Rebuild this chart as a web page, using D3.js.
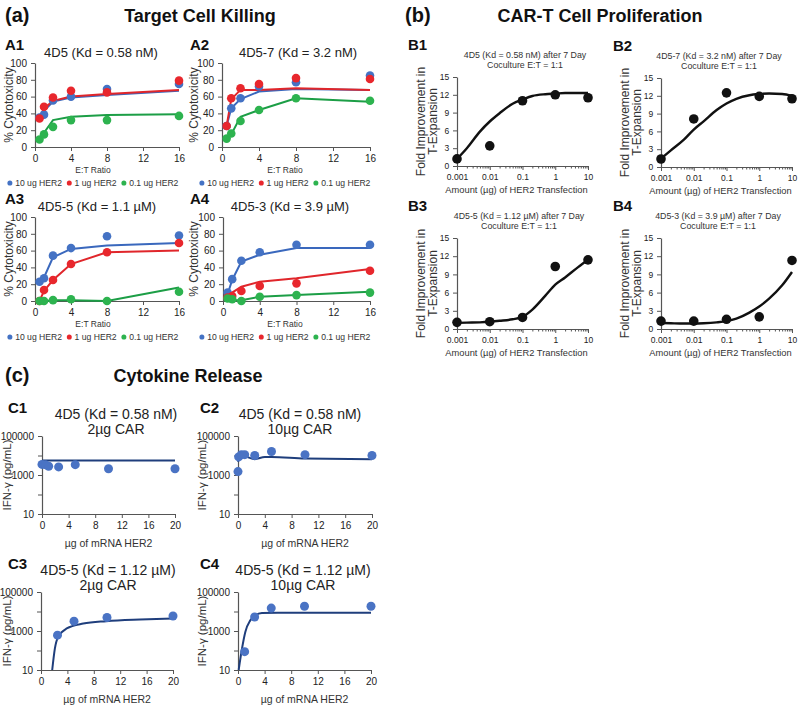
<!DOCTYPE html>
<html><head><meta charset="utf-8">
<script src="https://cdn.jsdelivr.net/npm/d3@7"></script>
<style>body{margin:0;background:#fff;}</style>
</head><body><svg id="c" width="800" height="705"></svg>
<script>
// ---------------- DATA ----------------
const etRatio = [0.5, 1, 2, 4, 8, 16];
const herLabels = ["10 ug HER2", "1 ug HER2", "0.1 ug HER2"];
const etTicks = [0, 4, 8, 12, 16];
const cytoTicks = [0, 20, 40, 60, 80, 100];

const a1Pts10 = [35, 38.5, 55.5, 60, 69, 75];
const a1Pts1  = [34, 48, 59, 67, 65, 79];
const a1Pts01 = [9, 15, 24, 32, 32, 37];
const a1Fit10 = [35, 43, 54, 59, 62, 67];
const a1Fit1  = [35, 46, 55, 60, 63, 68];
const a1Fit01 = [9, 17, 32, 36, 38, 39];

const a2Pts10 = [25, 46, 58, 72, 77, 85];
const a2Pts1  = [25, 58, 70, 75, 82, 81];
const a2Pts01 = [10, 16, 31, 44, 58, 55];
const a2Fit10 = [25, 46, 57, 66, 69, 68];
const a2Fit1  = [25, 57, 68, 68, 70, 68];
const a2Fit01 = [10, 15, 36, 44, 58, 54];

const a3Pts10 = [23, 27, 54, 63, 77, 78];
const a3Pts1  = [0, 13, 25, 44, 58, 69];
const a3Pts01 = [0, 0, 1, 2, 0, 11];
const a3Fit10 = [22, 28, 52, 62, 66, 69];
const a3Fit1  = [0, 12, 25, 44, 58, 60];
const a3Fit01 = [0, 0, 1, 1, 0, 16];

const a4Pts10 = [10, 26, 48, 58, 67, 67];
const a4Pts1  = [4, 6, 12, 18, 21, 36];
const a4Pts01 = [3, 2, 0, 5, 7, 10];
const a4Fit10 = [8, 25, 47, 55, 63, 63];
const a4Fit1  = [3, 10, 17, 23, 27, 38];
const a4Fit01 = [1, 1, 1, 5, 7, 11];

const herAmounts = [0.001, 0.01, 0.1, 1, 10];
const amountTicks = [0.001, 0.01, 0.1, 1, 10];
const foldTicks = [0, 3, 6, 9, 12, 15];
const fitAmounts = [0.001, 0.002, 0.005, 0.01, 0.02, 0.05, 0.1, 0.2, 0.5, 1, 2, 5, 10];
const b1Pts = [1.2, 3.4, 11, 12, 11.5];
const b2Pts = [1.35, 8.1, 12.5, 11.9, 11.5];
const b3Pts = [1.1, 1.2, 1.9, 10.3, 11.4];
const b4Pts = [1.3, 1.3, 1.6, 2.0, 11.3];
const b1Fit = [1.2, 3.0, 5.8, 7.5, 8.9, 10.5, 11.2, 11.8, 12.1, 12.2, 12.3, 12.3, 12.3];
const b2Fit = [1.4, 2.8, 4.6, 6.3, 7.7, 9.6, 10.7, 11.5, 12.1, 12.3, 12.4, 12.3, 12.0];
const b3Fit = [1.0, 1.05, 1.1, 1.2, 1.35, 1.6, 2.0, 3.2, 5.5, 7.3, 8.5, 10.2, 11.4];
const b4Fit = [1.0, 0.95, 0.9, 0.9, 0.95, 1.1, 1.3, 1.7, 2.7, 3.7, 5.0, 7.2, 9.4];

const mrnaTicks = [0, 4, 8, 12, 16, 20];
const ifnTicks = [10, 100, 1000, 10000, 100000];
const ifnLabels = [10, 1000, 100000];
const c1X = [0, 0.5, 1, 2.5, 5, 10, 20];
const c1Pts = [3500, 3400, 2800, 2600, 3400, 2100, 2100];
const c1FitX = [0, 20];
const c1Fit = [5500, 5500];
const c2X = [0, 0.1, 0.5, 1, 2.5, 5, 10, 20];
const c2Pts = [1500, 8500, 11000, 11000, 10000, 16000, 11000, 10000];
const c2FitX = [0, 0.5, 1, 2.5, 4, 5, 10, 20];
const c2Fit = [4700, 11000, 9500, 6500, 8400, 8400, 7000, 6500];
const c3X = [2.5, 5, 10, 20];
const c3Pts = [610, 3200, 4900, 5900];
const c3FitX = [1.7, 2.1, 2.6, 3.9, 6.4, 9.9, 15, 20];
const c3Fit = [10, 125, 500, 1350, 2400, 3200, 3900, 4400];
const c4X = [1, 2.5, 5, 10, 20];
const c4Pts = [87, 5200, 15000, 18500, 18500];
const c4FitX = [0.1, 0.6, 1.1, 1.85, 2.6, 3.6, 6, 20];
const c4Fit = [10, 125, 900, 3500, 6300, 8500, 8700, 8700];

// ---------------- DRAWING ----------------
const FONT = "'Liberation Sans', Arial, Helvetica, sans-serif";
const svg = d3.select("#c");
const AX = "#555";
const COL = {
  blue: "#4472c4", blueLine: "#3a68bd",
  red: "#e8272d", redLine: "#e0262b",
  green: "#2db34f", greenLine: "#1c9e46",
  cDot: "#4a73c4", cLine: "#1f3e7c"
};

function txt(x, y, s, o = {}) {
  const t = svg.append("text").attr("x", x).attr("y", y).text(s)
    .attr("font-family", FONT).attr("font-size", o.size || 10)
    .attr("font-weight", o.weight || "normal")
    .attr("text-anchor", o.anchor || "start").attr("fill", o.fill || "#222");
  if (o.rotate) t.attr("transform", `rotate(-90,${x},${y})`);
  return t;
}

let clipId = 0;
function panel(p) {
  const g = svg.append("g");
  const x = p.xScale.copy().range([p.left, p.right]);
  const y = p.yScale.copy().range([p.bottom, p.top]);
  const id = "clip" + (clipId++);
  svg.append("clipPath").attr("id", id).append("rect")
    .attr("x", p.left - 1).attr("y", p.top - 1)
    .attr("width", p.right - p.left + 2).attr("height", p.bottom - p.top + 2);

  const xa = g.append("g").attr("transform", `translate(0,${p.bottom})`)
    .call(d3.axisBottom(x).tickValues(p.xTicks).tickFormat(p.xFmt || (d => d))
      .tickSize(4).tickSizeOuter(0));
  if (p.xMinor) {
    g.append("g").attr("transform", `translate(0,${p.bottom})`)
      .call(d3.axisBottom(x).tickValues(p.xMinor).tickFormat("").tickSize(2.5).tickSizeOuter(0))
      .select(".domain").remove();
  }
  const ya = g.append("g").attr("transform", `translate(${p.left},0)`)
    .call(d3.axisLeft(y).tickValues(p.yTicks)
      .tickFormat(p.yFmt || (d => d)).tickSize(4).tickSizeOuter(0));
  g.selectAll(".domain").attr("stroke", AX).attr("stroke-width", 1.2);
  g.selectAll(".tick line").attr("stroke", AX).attr("stroke-width", 1);
  g.selectAll(".tick text").attr("font-family", FONT).attr("fill", "#222");
  xa.selectAll(".tick text").attr("font-size", p.tickSize || 10).attr("dy", "0.8em");
  ya.selectAll(".tick text").attr("font-size", p.tickSize || 10).attr("dx", "-0.1em");

  const lineGen = d3.line().x(d => x(d[0])).y(d => y(d[1])).curve(p.curve || d3.curveLinear);
  (p.lines || []).forEach(L => {
    g.append("path").datum(d3.zip(L.x, L.y)).attr("d", lineGen)
      .attr("fill", "none").attr("stroke", L.color).attr("stroke-width", L.width || 2)
      .attr("clip-path", `url(#${id})`);
  });
  (p.points || []).forEach(P => {
    g.append("g").selectAll("circle").data(d3.zip(P.x, P.y)).join("circle")
      .attr("cx", d => x(d[0])).attr("cy", d => y(d[1])).attr("r", P.r || 4.5)
      .attr("fill", P.color);
  });
  return { x, y };
}

// ---- Section headings
txt(5, 22, "(a)", { size: 20, weight: "bold", fill: "#111" });
txt(200, 22, "Target Cell Killing", { size: 18, weight: "bold", anchor: "middle", fill: "#111" });
txt(405, 22, "(b)", { size: 20, weight: "bold", fill: "#111" });
txt(600, 22, "CAR-T Cell Proliferation", { size: 18, weight: "bold", anchor: "middle", fill: "#111" });
txt(5, 382, "(c)", { size: 20, weight: "bold", fill: "#111" });
txt(188, 382, "Cytokine Release", { size: 18, weight: "bold", anchor: "middle", fill: "#111" });

// ---- A panels
const aPanels = [
  { lab: "A1", title: "4D5 (Kd = 0.58 nM)", left: 35, right: 179, top: 63, bottom: 147, labX: 5, titleX: 101, ylX: 13, legC: 93,
    pts: [a1Pts10, a1Pts1, a1Pts01], fit: [a1Fit10, a1Fit1, a1Fit01] },
  { lab: "A2", title: "4D5-7 (Kd = 3.2 nM)", left: 222, right: 370, top: 63, bottom: 147, labX: 190, titleX: 298, ylX: 198, legC: 285,
    pts: [a2Pts10, a2Pts1, a2Pts01], fit: [a2Fit10, a2Fit1, a2Fit01] },
  { lab: "A3", title: "4D5-5 (Kd = 1.1 µM)", left: 35, right: 179, top: 217, bottom: 301, labX: 5, titleX: 97, ylX: 13, legC: 93,
    pts: [a3Pts10, a3Pts1, a3Pts01], fit: [a3Fit10, a3Fit1, a3Fit01] },
  { lab: "A4", title: "4D5-3 (Kd = 3.9 µM)", left: 223, right: 370, top: 217, bottom: 301, labX: 190, titleX: 290, ylX: 198, legC: 285,
    pts: [a4Pts10, a4Pts1, a4Pts01], fit: [a4Fit10, a4Fit1, a4Fit01] }
];
const dotCols = [COL.blue, COL.red, COL.green];
const lineCols = [COL.blueLine, COL.redLine, COL.greenLine];
aPanels.forEach(a => {
  txt(a.labX, a.top - 13, a.lab, { size: 15, weight: "bold", fill: "#111" });
  txt(a.titleX, a.top - 6, a.title, { size: 13, anchor: "middle" });
  panel({
    left: a.left, right: a.right, top: a.top, bottom: a.bottom,
    xScale: d3.scaleLinear().domain([0, 16]), yScale: d3.scaleLinear().domain([0, 100]),
    xTicks: etTicks, yTicks: cytoTicks, tickSize: 10,
    lines: [0, 1, 2].map(i => ({ x: etRatio, y: a.fit[i], color: lineCols[i], width: 2 })),
    points: [0, 1, 2].map(i => ({ x: etRatio, y: a.pts[i], color: dotCols[i], r: 4.3 }))
  });
  txt(a.ylX, (a.top + a.bottom) / 2, "% Cytotoxicity", { size: 12, anchor: "middle", rotate: true, fill: "#333" });
  txt(a.legC, a.bottom + 26, "E:T Ratio", { size: 8.5, anchor: "middle", fill: "#333" });
  const lg = svg.append("g");
  let xx = 0;
  herLabels.forEach((l, i) => {
    lg.append("circle").attr("cx", xx + 2.5).attr("cy", -3).attr("r", 2.6).attr("fill", dotCols[i]);
    const t = lg.append("text").attr("x", xx + 8).attr("y", 0).text(l)
      .attr("font-family", FONT).attr("font-size", 9).attr("fill", "#333");
    xx += 8 + t.node().getComputedTextLength() + 5;
  });
  const w = xx - 5;
  const s = 171 / w;
  lg.attr("transform", `translate(${a.legC - 171 / 2},${a.bottom + 39}) scale(${s},1)`);
});

// ---- B panels
const bPanels = [
  { lab: "B1", t1: "4D5 (Kd = 0.58 nM) after 7 Day", tc: 525, left: 457, right: 588, top: 77, bottom: 166, labX: 408, pts: b1Pts, fit: b1Fit },
  { lab: "B2", t1: "4D5-7 (Kd = 3.2 nM) after 7 Day", tc: 719, left: 661, right: 792, top: 78, bottom: 167, labX: 613, pts: b2Pts, fit: b2Fit },
  { lab: "B3", t1: "4D5-5 (Kd = 1.12 µM) after 7 Day", tc: 519, left: 457, right: 588, top: 238, bottom: 329, labX: 408, pts: b3Pts, fit: b3Fit },
  { lab: "B4", t1: "4D5-3 (Kd = 3.9 µM) after 7 Day", tc: 718, left: 661, right: 792, top: 238, bottom: 329, labX: 613, pts: b4Pts, fit: b4Fit }
];
const minorAmt = [];
[0.001, 0.01, 0.1, 1].forEach(d => { for (let k = 2; k <= 9; k++) minorAmt.push(d * k); });
bPanels.forEach(b => {
  txt(b.labX, b.top - 27, b.lab, { size: 15, weight: "bold", fill: "#111" });
  txt(b.tc, b.top - 19, b.t1, { size: 8.8, anchor: "middle", fill: "#333" });
  txt(b.tc, b.top - 9, "Coculture E:T = 1:1", { size: 8.8, anchor: "middle", fill: "#333" });
  panel({
    left: b.left, right: b.right, top: b.top, bottom: b.bottom,
    xScale: d3.scaleLog().domain([0.001, 10]), yScale: d3.scaleLinear().domain([0, 15]),
    xTicks: amountTicks, xMinor: minorAmt, yTicks: foldTicks, tickSize: 8.5,
    xFmt: d => d3.format("~g")(d),
    curve: d3.curveMonotoneX,
    lines: [{ x: fitAmounts, y: b.fit, color: "#111", width: 2.4 }],
    points: [{ x: herAmounts, y: b.pts, color: "#111", r: 4.8 }]
  });
  const cy = (b.top + b.bottom) / 2;
  txt(b.left - 32, cy, "Fold Improvement in", { size: 12, anchor: "middle", rotate: true, fill: "#333" });
  txt(b.left - 20, cy, "T-Expansion", { size: 12, anchor: "middle", rotate: true, fill: "#333" });
  txt((b.left + b.right) / 2 - 6, b.bottom + 27, "Amount (µg) of HER2 Transfection", { size: 9.3, anchor: "middle", fill: "#333" });
});

// ---- C panels
const cPanels = [
  { lab: "C1", t1: "4D5 (Kd = 0.58 nM)", t2: "2µg CAR", left: 42, right: 175, top: 436, bottom: 514, labX: 8, titleX: 116, ylX: 11,
    x: c1X, pts: c1Pts, fx: c1FitX, fit: c1Fit },
  { lab: "C2", t1: "4D5 (Kd = 0.58 nM)", t2: "10µg CAR", left: 238, right: 372, top: 436, bottom: 514, labX: 200, titleX: 300, ylX: 206,
    x: c2X, pts: c2Pts, fx: c2FitX, fit: c2Fit },
  { lab: "C3", t1: "4D5-5 (Kd = 1.12 µM)", t2: "2µg CAR", left: 41, right: 173, top: 592, bottom: 670, labX: 8, titleX: 108, ylX: 11,
    x: c3X, pts: c3Pts, fx: c3FitX, fit: c3Fit },
  { lab: "C4", t1: "4D5-5 (Kd = 1.12 µM)", t2: "10µg CAR", left: 238, right: 371, top: 592, bottom: 670, labX: 200, titleX: 303, ylX: 206,
    x: c4X, pts: c4Pts, fx: c4FitX, fit: c4Fit }
];
cPanels.forEach(c => {
  txt(c.labX, c.top - 23, c.lab, { size: 15, weight: "bold", fill: "#111" });
  txt(c.titleX, c.top - 17, c.t1, { size: 14, anchor: "middle" });
  txt(c.titleX, c.top - 2, c.t2, { size: 14, anchor: "middle" });
  panel({
    left: c.left, right: c.right, top: c.top, bottom: c.bottom,
    xScale: d3.scaleLinear().domain([0, 20]), yScale: d3.scaleLog().domain([10, 100000]),
    xTicks: mrnaTicks, yTicks: ifnTicks, tickSize: 10,
    yFmt: d => ifnLabels.includes(d) ? String(d) : "",
    curve: d3.curveMonotoneX,
    lines: [{ x: c.fx, y: c.fit, color: COL.cLine, width: 2 }],
    points: [{ x: c.x, y: c.pts, color: COL.cDot, r: 4.5 }]
  });
  txt(c.ylX, (c.top + c.bottom) / 2, "IFN-γ (pg/mL)", { size: 11.5, anchor: "middle", rotate: true, fill: "#333" });
  txt((c.left + c.right) / 2, c.bottom + 33, "µg of mRNA HER2", { size: 10.5, anchor: "middle", fill: "#333" });
});
</script></body></html>
